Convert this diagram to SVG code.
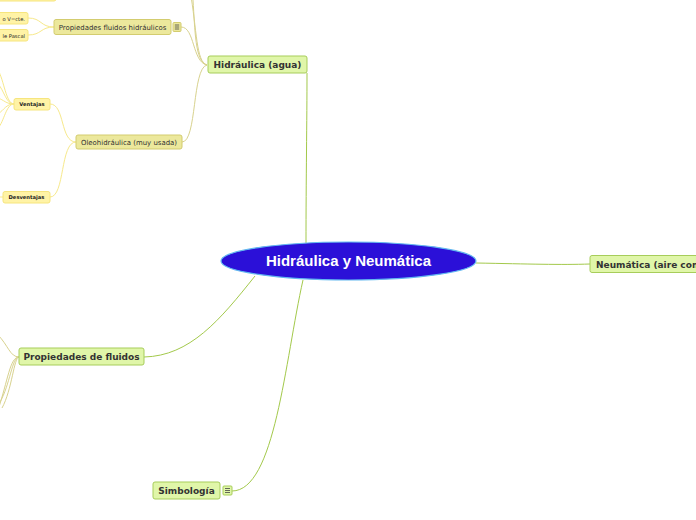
<svg xmlns="http://www.w3.org/2000/svg" width="696" height="520" viewBox="0 0 696 520">
<style>
.l1 rect{fill:#e0f6a9;stroke:#a7cd5a;stroke-width:1}
.l1 text{font-family:"DejaVu Sans",Verdana,sans-serif;font-weight:bold;font-size:9px;fill:#333}
.l2 rect{fill:#ece89c;stroke:#d3cc6f;stroke-width:1}
.l2 text{font-family:"DejaVu Sans",Verdana,sans-serif;font-size:6.95px;fill:#333}
.l3 rect{fill:#fff3a6;stroke:#f6e57e;stroke-width:1}
.l3 text{font-family:"DejaVu Sans",Verdana,sans-serif;font-size:5.2px;fill:#222}
.l3b text{font-weight:bold}
.c1{fill:none;stroke:#a3c94b;stroke-width:1}
.c2{fill:none;stroke:#d8d28e;stroke-width:1}
.c3{fill:none;stroke:#f7e98c;stroke-width:1}
</style>
<rect width="696" height="520" fill="#fff"/>
<g id="connectors">
<path class="c1" d="M306,243 C306,180 307,120 307,73"/>
<path class="c1" d="M476,263 C530,264 560,265 590,264"/>
<path class="c1" d="M255,276 C220,320 190,356 144,357"/>
<path class="c1" d="M303,280 C285,360 275,491 232,491"/>
<path class="c2" d="M207,65 C195,62 195,30 193,0"/>
<path class="c2" d="M207,65 C196,62 197,30 190,-10"/>
<path class="c2" d="M207,65 C192,62 195,27 181,27"/>
<path class="c2" d="M207,65 C192,68 197,142 182,142"/>
<path class="c3" d="M54,27 C40,27 42,18 28,18"/>
<path class="c3" d="M54,27 C40,27 42,35 28,35"/>
<path class="c3" d="M76,142 C60,142 65,104 50,104"/>
<path class="c3" d="M76,142 C60,142 65,197 50,197"/>
<path class="c3" d="M14,104 C6,104 4,80 -2,70"/>
<path class="c3" d="M14,104 C6,104 4,90 -2,84"/>
<path class="c3" d="M14,104 C6,104 4,100 -2,98"/>
<path class="c3" d="M14,104 C6,104 4,110 -2,114"/>
<path class="c3" d="M14,104 C6,104 4,122 -2,128"/>
<path class="c3" d="M3,197 L-2,197"/>
<path class="c2" d="M19,357 C10,357 8,345 -2,335"/>
<path class="c2" d="M19,357 C10,357 8,380 -2,410"/>
<path class="c2" d="M19,357 C12,357 10,385 0,402"/>
<path class="c2" d="M19,357 C14,357 12,390 2,408"/>
</g>
<g id="top-partial" class="l3">
<rect x="-5" y="-14" width="61" height="15" rx="2"/>
</g>
<g id="central">
<ellipse cx="348.5" cy="261" rx="127.5" ry="19" fill="#2b10d8" stroke="#62b8f0" stroke-width="1.2"/>
<text x="348.5" y="266.3" text-anchor="middle" font-family="'Liberation Sans',Arial,sans-serif" font-weight="bold" font-size="15px" fill="#fff">Hidráulica y Neumática</text>
</g>
<g id="hidraulica" class="l1">
<rect x="208" y="56" width="99" height="17" rx="2"/>
<text x="257.5" y="68" text-anchor="middle">Hidráulica (agua)</text>
</g>
<g id="neumatica" class="l1">
<rect x="590" y="255.5" width="136" height="17" rx="2"/>
<text x="596" y="267.5">Neumática (aire comprimido)</text>
</g>
<g id="propiedades-fluidos" class="l1">
<rect x="19" y="348" width="125" height="17" rx="2"/>
<text x="81.5" y="360" text-anchor="middle">Propiedades de fluidos</text>
</g>
<g id="simbologia" class="l1">
<rect x="153" y="482" width="67" height="17" rx="2"/>
<text x="186.5" y="494" text-anchor="middle">Simbología</text>
<rect x="223" y="486" width="9" height="9" rx="1" fill="#e0f6a9" stroke="none"/>
<path d="M225,488.5h5M225,490.5h5M225,492.5h5" stroke="#444" stroke-width="0.8"/>
</g>
<g id="prop-fluidos-hidraulicos" class="l2">
<rect x="54" y="19.5" width="117" height="15" rx="2"/>
<text x="112.5" y="29.7" text-anchor="middle">Propiedades fluidos hidráulicos</text>
<rect x="173" y="22.5" width="8" height="9" rx="1" fill="#ece89c" stroke="none"/>
<path d="M174.8,25h4.4M174.8,27h4.4M174.8,29h4.4" stroke="#444" stroke-width="0.8"/>
</g>
<g id="oleohidraulica" class="l2">
<rect x="76" y="135" width="106" height="14" rx="2"/>
<text x="129" y="144.7" text-anchor="middle">Oleohidráulica (muy usada)</text>
</g>
<g id="vcte" class="l3">
<rect x="-30" y="12.5" width="58" height="11.5" rx="2"/>
<text x="25" y="20.5" text-anchor="end">o V=cte.</text>
</g>
<g id="pascal" class="l3">
<rect x="-30" y="29.5" width="58" height="11.5" rx="2"/>
<text x="25" y="37.5" text-anchor="end">le Pascal</text>
</g>
<g id="ventajas" class="l3 l3b">
<rect x="14" y="98.5" width="36" height="11.5" rx="2"/>
<text x="32" y="106.2" text-anchor="middle">Ventajas</text>
</g>
<g id="desventajas" class="l3 l3b">
<rect x="3" y="191.5" width="47" height="11.5" rx="2"/>
<text x="26.5" y="199.2" text-anchor="middle">Desventajas</text>
</g>
</svg>
